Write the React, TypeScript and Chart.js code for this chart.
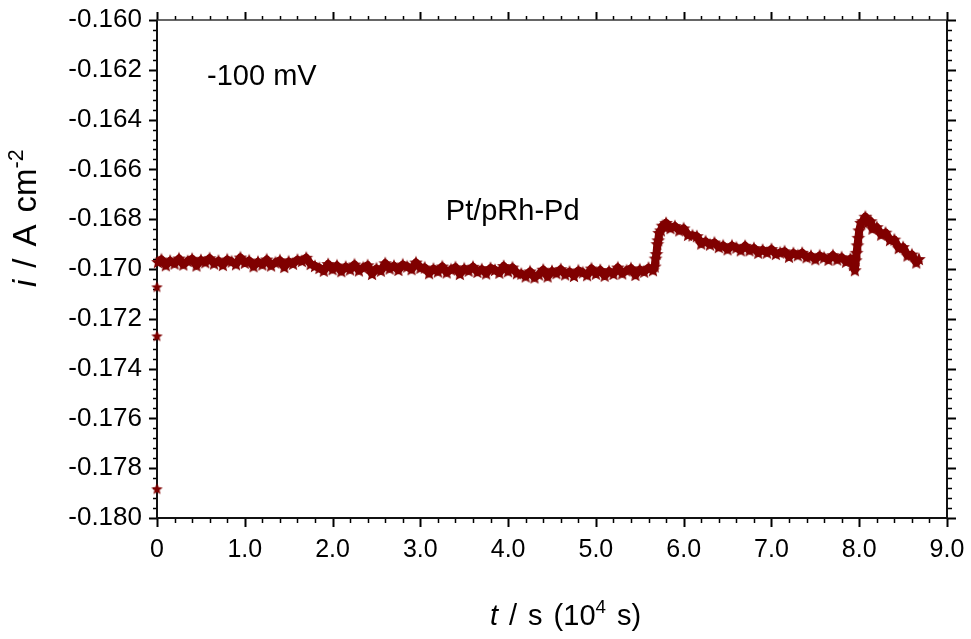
import React, { useEffect, useRef } from 'react';
import { Chart, registerables } from 'chart.js';

Chart.register(...registerables);

const FONT = "'Liberation Sans', Arial, Helvetica, sans-serif";
const MARK_COLOR = '#800000';

// axis ranges (t in 10^4 s, i in A cm^-2)
const X_MIN = 0;
const X_MAX = 9;
const X_MAJOR = 1;
const X_MINOR = 0.2;
const Y_MIN = -0.18;
const Y_MAX = -0.16;
const Y_MAJOR = 0.002;
const Y_MINOR = 0.0004;

// initial transient points at t = 0
const INITIAL_TRANSIENT: [number, number][] = [
  [0.0, -0.17883],
  [0.0, -0.17269],
  [0.0, -0.17072],
];

// steady baseline, t = 0.01 .. 5.65
const BASELINE: [number, number][] = [
  [0.01, -0.16972],
  [0.05, -0.16962], [0.10, -0.16985], [0.15, -0.16967], [0.20, -0.16978], [0.25, -0.16958],
  [0.30, -0.16982], [0.35, -0.16968], [0.40, -0.16959], [0.45, -0.16986], [0.50, -0.16964],
  [0.55, -0.16973], [0.60, -0.16957], [0.65, -0.16978], [0.70, -0.16967], [0.75, -0.16984],
  [0.80, -0.16962], [0.85, -0.1697], [0.90, -0.16981], [0.95, -0.16954], [1.00, -0.16975],
  [1.05, -0.16966], [1.10, -0.16989], [1.15, -0.16971], [1.20, -0.16982], [1.25, -0.16962],
  [1.30, -0.16986], [1.35, -0.16974], [1.40, -0.16965], [1.45, -0.16992], [1.50, -0.1697],
  [1.55, -0.16979], [1.60, -0.16963], [1.65, -0.16968], [1.70, -0.16955], [1.75, -0.1698],
  [1.80, -0.16988], [1.85, -0.16996], [1.90, -0.17007], [1.95, -0.1698], [2.00, -0.17001],
  [2.05, -0.16986], [2.10, -0.17009], [2.15, -0.16991], [2.20, -0.17002], [2.25, -0.16982],
  [2.30, -0.17006], [2.35, -0.16994], [2.40, -0.16985], [2.45, -0.1702], [2.50, -0.16998],
  [2.55, -0.17007], [2.60, -0.16977], [2.65, -0.16998], [2.70, -0.16987], [2.75, -0.17004],
  [2.80, -0.16982], [2.85, -0.1699], [2.90, -0.17001], [2.95, -0.16974], [3.00, -0.16995],
  [3.05, -0.16994], [3.10, -0.17017], [3.15, -0.16999], [3.20, -0.1701], [3.25, -0.1699],
  [3.30, -0.17014], [3.35, -0.17002], [3.40, -0.16993], [3.45, -0.1702], [3.50, -0.16998],
  [3.55, -0.17007], [3.60, -0.16991], [3.65, -0.17012], [3.70, -0.17001], [3.75, -0.17018],
  [3.80, -0.16996], [3.85, -0.17004], [3.90, -0.17015], [3.95, -0.16988], [4.00, -0.17009],
  [4.05, -0.16994], [4.10, -0.17017], [4.15, -0.17019], [4.20, -0.1703], [4.25, -0.1701],
  [4.30, -0.17034], [4.35, -0.17022], [4.40, -0.17003], [4.45, -0.1703], [4.50, -0.17008],
  [4.55, -0.17017], [4.60, -0.17001], [4.65, -0.17022], [4.70, -0.17011], [4.75, -0.17028],
  [4.80, -0.17006], [4.85, -0.17014], [4.90, -0.17025], [4.95, -0.16998], [5.00, -0.17019],
  [5.05, -0.17004], [5.10, -0.17027], [5.15, -0.17009], [5.20, -0.1702], [5.25, -0.16994],
  [5.30, -0.17018], [5.35, -0.17006], [5.40, -0.16997], [5.45, -0.17024], [5.50, -0.17002],
  [5.55, -0.17011], [5.60, -0.16995], [5.65, -0.17005],
];

// first step and slow decay, t = 5.67 .. 7.95
const FIRST_STEP: [number, number][] = [
  [5.67, -0.1699], [5.68, -0.16958], [5.69, -0.1694], [5.70, -0.169], [5.71, -0.16885],
  [5.72, -0.16855], [5.74, -0.16845], [5.76, -0.16826], [5.78, -0.1683], [5.80, -0.16815],
  [5.85, -0.16836], [5.90, -0.16828], [5.95, -0.16845], [6.00, -0.16837], [6.05, -0.16863],
  [6.10, -0.16865], [6.15, -0.16868], [6.20, -0.16898], [6.25, -0.16889], [6.30, -0.16902],
  [6.35, -0.16894], [6.40, -0.16912], [6.45, -0.16906], [6.50, -0.16921], [6.55, -0.16906],
  [6.60, -0.16914], [6.65, -0.16925], [6.70, -0.16907], [6.75, -0.16925], [6.80, -0.16916],
  [6.85, -0.16935], [6.90, -0.16923], [6.95, -0.16934], [7.00, -0.1692], [7.05, -0.1694],
  [7.10, -0.16934], [7.15, -0.16929], [7.20, -0.16951], [7.25, -0.16936], [7.30, -0.16945],
  [7.35, -0.16935], [7.40, -0.16953], [7.45, -0.16947], [7.50, -0.16961], [7.55, -0.16946],
  [7.60, -0.16954], [7.65, -0.16963], [7.70, -0.16945], [7.75, -0.16962], [7.80, -0.16953],
  [7.85, -0.16971], [7.90, -0.16959], [7.93, -0.16984], [7.95, -0.17005],
];

// second step and decay, t = 7.96 .. 8.68
const SECOND_STEP: [number, number][] = [
  [7.96, -0.16965], [7.97, -0.16935], [7.98, -0.16905], [7.99, -0.16875], [8.00, -0.16845],
  [8.02, -0.16815], [8.04, -0.16808], [8.07, -0.1679], [8.10, -0.16812], [8.13, -0.16808],
  [8.15, -0.16838], [8.20, -0.16832], [8.25, -0.16862], [8.30, -0.16854], [8.35, -0.16884],
  [8.40, -0.16882], [8.45, -0.16916], [8.50, -0.16912], [8.55, -0.16946], [8.60, -0.16942],
  [8.65, -0.16974], [8.68, -0.1696],
];

const POTENTIAL_LABEL = '-100 mV';
const POTENTIAL_LABEL_AT: [number, number] = [0.57, -0.16261];
const SAMPLE_LABEL = 'Pt/pRh-Pd';
const SAMPLE_LABEL_AT: [number, number] = [3.29, -0.16803];

type Part = { text: string; italic?: boolean; sup?: boolean };
const X_TITLE: Part[] = [
  { text: 't', italic: true }, { text: ' / s (10' }, { text: '4', sup: true }, { text: ' s)' },
];
const Y_TITLE: Part[] = [
  { text: 'i', italic: true }, { text: ' / A cm' }, { text: '-2', sup: true },
];

function makeStar(size: number): HTMLCanvasElement {
  const c = document.createElement('canvas');
  const s = Math.ceil(size * 2 + 3);
  c.width = s;
  c.height = s;
  const g = c.getContext('2d')!;
  const cx = s / 2;
  const cy = s / 2 + 0.5;
  const ro = size;
  const ri = size * 0.45;
  g.beginPath();
  for (let k = 0; k < 10; k++) {
    const r = k % 2 === 0 ? ro : ri;
    const a = -Math.PI / 2 + (k * Math.PI) / 5;
    const px = cx + r * Math.cos(a);
    const py = cy + r * Math.sin(a);
    if (k === 0) g.moveTo(px, py);
    else g.lineTo(px, py);
  }
  g.closePath();
  g.fillStyle = MARK_COLOR;
  g.fill();
  return c;
}

function drawRich(ctx: CanvasRenderingContext2D, parts: Part[], size: number, spaceW: number) {
  let cx = 0;
  for (const p of parts) {
    const fs = p.sup ? size * 0.65 : size;
    ctx.font = `${p.italic ? 'italic ' : ''}${fs}px ${FONT}`;
    const yOff = p.sup ? -size * 0.4 : 0;
    for (const ch of p.text) {
      if (ch === ' ') {
        cx += spaceW;
        continue;
      }
      ctx.fillText(ch, cx, yOff);
      cx += ctx.measureText(ch).width;
    }
  }
}

const zeroPadding = (s: any) => {
  s.paddingTop = 0;
  s.paddingBottom = 0;
  s.paddingLeft = 0;
  s.paddingRight = 0;
};

const framePlugin = {
  id: 'frameAndTicks',
  beforeDatasetsDraw(chart: any) {
    const { ctx, chartArea: a, scales } = chart;
    const xs = scales.x;
    const ys = scales.y;
    ctx.save();
    ctx.strokeStyle = '#000';
    ctx.lineCap = 'butt';
    const nx = Math.round((X_MAX - X_MIN) / X_MINOR);
    for (let k = 0; k <= nx; k++) {
      const v = X_MIN + k * X_MINOR;
      const px = Math.round(xs.getPixelForValue(v)) + 0.5;
      const major = k % Math.round(X_MAJOR / X_MINOR) === 0;
      ctx.lineWidth = major ? 2 : 1.5;
      ctx.beginPath();
      ctx.moveTo(px, a.bottom);
      ctx.lineTo(px, a.bottom + (major ? 9 : 5));
      ctx.moveTo(px, a.top);
      ctx.lineTo(px, a.top - (major ? 8 : 4));
      ctx.stroke();
    }
    const ny = Math.round((Y_MAX - Y_MIN) / Y_MINOR);
    for (let k = 0; k <= ny; k++) {
      const v = Y_MIN + k * Y_MINOR;
      const py = Math.round(ys.getPixelForValue(v)) + 0.5;
      const major = k % Math.round(Y_MAJOR / Y_MINOR) === 0;
      ctx.lineWidth = major ? 2 : 1.5;
      ctx.beginPath();
      ctx.moveTo(a.left, py);
      ctx.lineTo(a.left - (major ? 8 : 4), py);
      ctx.moveTo(a.right, py);
      ctx.lineTo(a.right + (major ? 9 : 5), py);
      ctx.stroke();
    }
    ctx.lineWidth = 2;
    ctx.strokeStyle = '#111';
    ctx.beginPath();
    ctx.moveTo(a.left, a.top);
    ctx.lineTo(a.left, a.bottom);
    ctx.lineTo(a.right, a.bottom);
    ctx.lineTo(a.right, a.top);
    ctx.stroke();
    ctx.lineWidth = 1.5;
    ctx.strokeStyle = '#333';
    ctx.beginPath();
    ctx.moveTo(a.left, a.top);
    ctx.lineTo(a.right, a.top);
    ctx.stroke();
    ctx.restore();
  },
  afterDraw(chart: any) {
    const { ctx, scales } = chart;
    const xs = scales.x;
    const ys = scales.y;
    ctx.save();
    ctx.fillStyle = '#000';
    ctx.textBaseline = 'alphabetic';
    ctx.textAlign = 'left';
    ctx.font = `29px ${FONT}`;
    ctx.fillText(POTENTIAL_LABEL, xs.getPixelForValue(POTENTIAL_LABEL_AT[0]), ys.getPixelForValue(POTENTIAL_LABEL_AT[1]));
    ctx.fillText(SAMPLE_LABEL, xs.getPixelForValue(SAMPLE_LABEL_AT[0]), ys.getPixelForValue(SAMPLE_LABEL_AT[1]));
    ctx.save();
    ctx.translate(490, 625);
    drawRich(ctx, X_TITLE, 29, 11);
    ctx.restore();
    ctx.save();
    ctx.translate(36, 287);
    ctx.rotate(-Math.PI / 2);
    drawRich(ctx, Y_TITLE, 33, 12);
    ctx.restore();
    ctx.restore();
  },
};

export default function App() {
  const ref = useRef<HTMLCanvasElement | null>(null);
  useEffect(() => {
    document.body.style.margin = '0';
    const canvas = ref.current;
    if (!canvas) return;
    const bandStar = makeStar(7.2);
    const loneStar = makeStar(6.0);
    const toXY = (arr: [number, number][]) => arr.map(([t, i]) => ({ x: t, y: i }));
    const chart = new Chart(canvas, {
      type: 'scatter',
      data: {
        datasets: [
          {
            data: toXY([...BASELINE, ...FIRST_STEP, ...SECOND_STEP]),
            pointStyle: bandStar as any,
            pointRadius: 8,
            backgroundColor: MARK_COLOR,
            borderColor: MARK_COLOR,
            borderWidth: 8,
            borderJoinStyle: 'round',
            borderCapStyle: 'butt',
            showLine: true,
            clip: false as any,
          },
          {
            data: toXY(INITIAL_TRANSIENT),
            pointStyle: loneStar as any,
            pointRadius: 7,
            backgroundColor: MARK_COLOR,
            borderColor: MARK_COLOR,
            showLine: false,
            clip: false as any,
          },
        ],
      },
      options: {
        animation: false,
        responsive: true,
        maintainAspectRatio: false,
        devicePixelRatio: 1,
        layout: { padding: { top: 20, right: 24, left: 0, bottom: 0 } },
        plugins: { legend: { display: false }, tooltip: { enabled: false }, title: { display: false } },
        events: [],
        scales: {
          x: {
            type: 'linear',
            min: X_MIN,
            max: X_MAX,
            grid: { display: false, drawTicks: false },
            border: { display: false },
            ticks: {
              stepSize: X_MAJOR,
              color: '#000',
              font: { family: FONT, size: 25 },
              padding: 17,
              maxRotation: 0,
              callback: (v: any) => (Number(v) === 0 ? '0' : Number(v).toFixed(1)),
            },
            afterFit: (s: any) => {
              s.height = 121;
              zeroPadding(s);
            },
          },
          y: {
            type: 'linear',
            min: Y_MIN,
            max: Y_MAX,
            grid: { display: false, drawTicks: false },
            border: { display: false },
            ticks: {
              stepSize: Y_MAJOR,
              color: '#000',
              font: { family: FONT, size: 26 },
              padding: 15,
              callback: (v: any) => Number(v).toFixed(3),
            },
            afterFit: (s: any) => {
              s.width = 157;
              zeroPadding(s);
            },
          },
        },
      },
      plugins: [framePlugin],
    });
    return () => chart.destroy();
  }, []);
  return (
    <div style={{ position: 'relative', width: 971, height: 639 }}>
      <canvas ref={ref} />
    </div>
  );
}
